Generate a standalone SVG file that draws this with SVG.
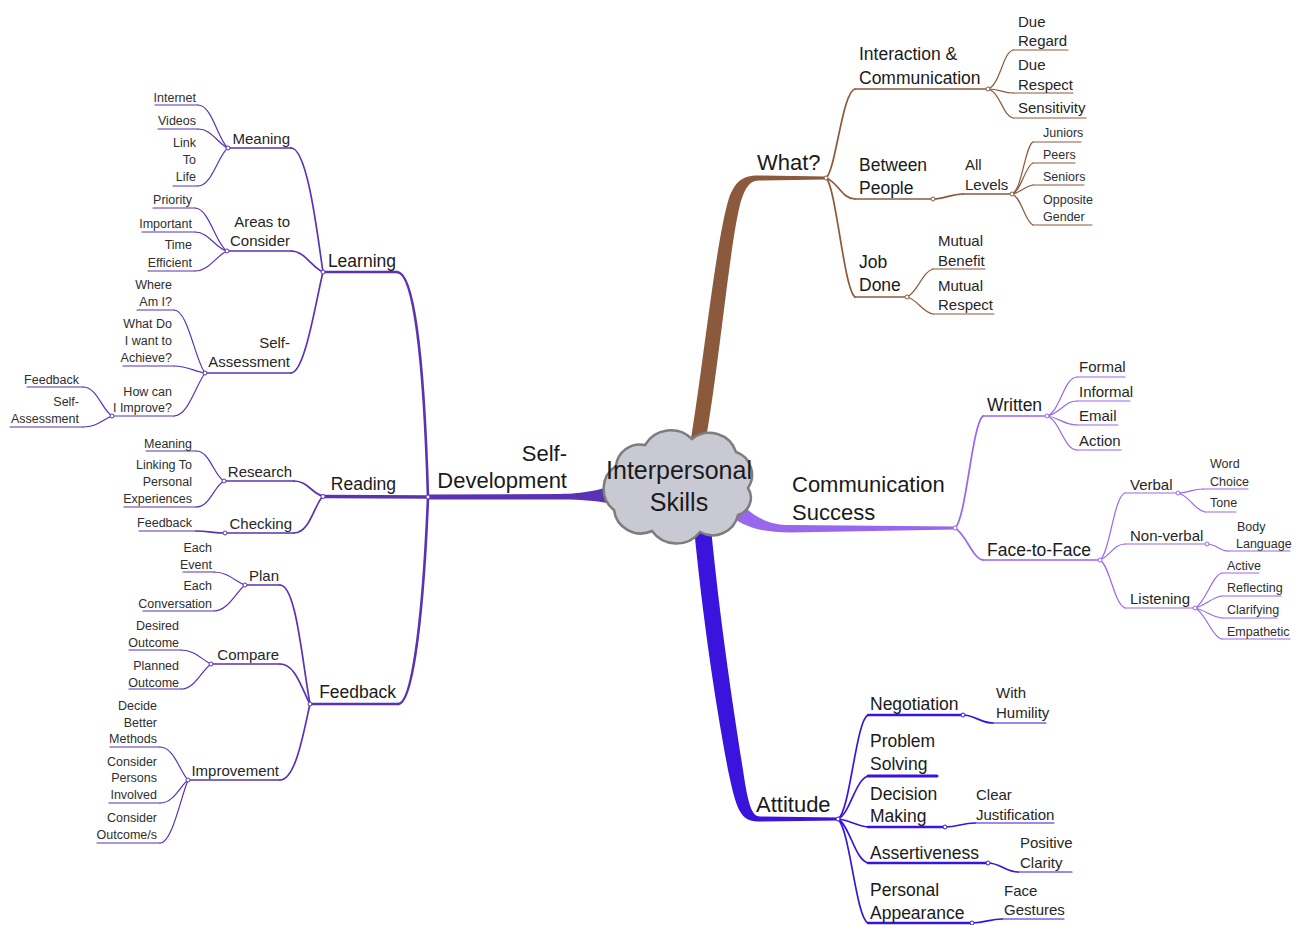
<svg xmlns="http://www.w3.org/2000/svg" width="1301" height="925" viewBox="0 0 1301 925">
  <style>
    text { font-family: "Liberation Sans", Arial, sans-serif; fill: #1a1a1a; }
    .f25 { font-size: 25px; }
    .f22 { font-size: 22px; }
    .f17 { font-size: 17.5px; }
    .f15 { font-size: 15px; fill: #262626; }
    .f12 { font-size: 12.5px; fill: #2e2e2e; }
    .e { text-anchor: end; }
    .m { text-anchor: middle; }
    path, line { fill: none; stroke-linecap: round; }
    .sd { stroke: #5a32b4; }
    .wh { stroke: #8b5a3c; }
    .cs { stroke: #9966ee; }
    .at { stroke: #3a14dc; }
    .w1 { stroke-width: 2.6; }
    .w2 { stroke-width: 1.7; }
    .w3 { stroke-width: 1.2; }
    .dot { fill: #ffffff; stroke-width: 1; }
    path.trunk { stroke: none; }
    path.t-sd { fill: #5a32b4; }
    path.t-wh { fill: #8b5a3c; }
    path.t-cs { fill: #9966ee; }
    path.t-at { fill: #3a14dc; }
    path.cloud { fill: #c9c9d3; stroke: #7d7d7d; stroke-width: 2.5; }
  </style>

  <!-- branch connectors -->
  <g id="connectors">
    <!-- main tapered branches -->
    <path class="trunk t-sd" d="M428,494.5 L560,494 C585,493.5 598,490 612,486 L612,504 C598,501 585,499.5 560,499.5 L428,499.5 Z"/>
    <path class="trunk t-wh" d="M690,445 C704,360 716,240 729,198 C735,182 742,175.5 758,175.5 L826,176.5 L826,179.5 L760,180.5 C750,180.5 746,186 741,201 C730,240 720,360 705,445 Z"/>
    <path class="trunk t-cs" d="M737,499 C750,514 765,525 790,525 L955,526.5 L955,529.5 L790,532.5 C760,532.5 740,526 727,512 Z"/>
    <path class="trunk t-at" d="M694,528 C703,620 715,700 728,770 C736,808 740,821.5 758,821.5 L838,820.5 L838,817.5 L760,816.5 C752,816.5 748,805 743,770 C732,700 720,620 711,528 Z"/>

    <!-- Self-Development -->
    <path class="sd w1" d="M397,272 C414,272 424,360 428,497"/>
    <path class="sd w1" d="M398,704 C414,704 424,600 428,497"/>
    <path class="sd w2" d="M291,148 C308,148 318,240 323,272"/>
    <path class="sd w2" d="M291,251 C305,251 312,268 323,272"/>
    <path class="sd w2" d="M291,373 C305,373 316,300 323,272"/>
    <path class="sd w3" d="M198,105 C212,105 218,140 228,148"/>
    <path class="sd w3" d="M198,129 C212,129 218,144 228,148"/>
    <path class="sd w3" d="M198,186 C212,186 218,155 228,148"/>
    <path class="sd w3" d="M195,208 C209,208 216,245 227,251"/>
    <path class="sd w3" d="M195,232 C209,232 216,249 227,251"/>
    <path class="sd w3" d="M195,271 C209,271 216,256 227,251"/>
    <path class="sd w3" d="M174,310 C188,310 195,360 205,373"/>
    <path class="sd w3" d="M174,366 C188,366 195,372 205,373"/>
    <path class="sd w3" d="M174,416 C188,416 196,385 205,373"/>
    <path class="sd w3" d="M83,387 C97,387 102,410 112,416"/>
    <path class="sd w3" d="M83,427 C97,427 102,420 112,416"/>
    <path class="sd w2" d="M294,481 C308,481 312,494 323,496"/>
    <path class="sd w2" d="M294,533 C310,533 314,505 323,496"/>
    <path class="sd w3" d="M196,451 C210,451 214,476 224,481"/>
    <path class="sd w3" d="M196,507 C210,507 214,486 224,481"/>
    <path class="sd w2" d="M196,531 C208,531 214,533 225,533"/>
    <path class="sd w2" d="M280,585 C296,585 302,660 310,704"/>
    <path class="sd w2" d="M280,664 C296,664 302,690 310,704"/>
    <path class="sd w2" d="M280,780 C296,780 304,730 310,704"/>
    <path class="sd w3" d="M214,572 C228,572 236,582 245,585"/>
    <path class="sd w3" d="M214,611 C228,611 236,592 245,585"/>
    <path class="sd w3" d="M181,650 C195,650 202,660 211,664"/>
    <path class="sd w3" d="M181,689 C195,689 202,670 211,664"/>
    <path class="sd w3" d="M160,747 C174,747 180,772 188,780"/>
    <path class="sd w3" d="M160,803 C174,803 180,786 188,780"/>
    <path class="sd w3" d="M160,843 C172,843 180,800 188,780"/>

    <!-- What? -->
    <path class="wh w2" d="M826,178 C836,170 842,92 855,89"/>
    <path class="wh w2" d="M826,178 C838,182 842,199 855,199"/>
    <path class="wh w2" d="M826,178 C836,186 844,290 855,297"/>
    <path class="wh w3" d="M988,89 C1000,85 1003,52 1013,50"/>
    <path class="wh w3" d="M988,89 C1000,89 1003,93 1013,93"/>
    <path class="wh w3" d="M988,89 C1000,92 1003,116 1013,118"/>
    <path class="wh w2" d="M933,199 C945,199 950,194 963,194"/>
    <path class="wh w3" d="M1012,194 C1022,190 1025,146 1033,142"/>
    <path class="wh w3" d="M1012,194 C1022,190 1025,166 1033,163"/>
    <path class="wh w3" d="M1012,194 C1022,192 1025,186 1033,185"/>
    <path class="wh w3" d="M1012,194 C1022,198 1025,222 1033,225"/>
    <path class="wh w3" d="M907,297 C918,292 922,272 933,269"/>
    <path class="wh w3" d="M907,297 C918,300 922,312 933,314"/>

    <!-- Communication Success -->
    <path class="cs w2" d="M955,528 C966,520 972,424 983,416"/>
    <path class="cs w2" d="M955,528 C966,534 972,558 983,560"/>
    <path class="cs w3" d="M1047,416 C1060,412 1064,377 1077,377"/>
    <path class="cs w3" d="M1047,416 C1060,414 1064,401 1077,401"/>
    <path class="cs w3" d="M1047,416 C1060,418 1064,425 1077,425"/>
    <path class="cs w3" d="M1047,416 C1060,420 1064,450 1077,450"/>
    <path class="cs w3" d="M1100,560 C1110,552 1114,496 1125,493"/>
    <path class="cs w3" d="M1100,560 C1110,556 1114,544 1125,544"/>
    <path class="cs w3" d="M1100,560 C1110,566 1114,604 1125,608"/>
    <path class="cs w3" d="M1178,493 C1188,493 1192,489 1203,489"/>
    <path class="cs w3" d="M1178,493 C1190,496 1194,510 1205,512"/>
    <path class="cs w3" d="M1207,544 C1216,544 1220,551 1228,551"/>
    <path class="cs w3" d="M1195,608 C1205,604 1212,575 1222,573"/>
    <path class="cs w3" d="M1195,608 C1205,606 1212,597 1222,596"/>
    <path class="cs w3" d="M1195,608 C1205,610 1212,617 1222,618"/>
    <path class="cs w3" d="M1195,608 C1205,612 1212,637 1222,639"/>

    <!-- Attitude -->
    <path class="at w2" d="M838,819 C850,812 856,720 868,715"/>
    <path class="at w2" d="M838,819 C850,814 855,780 868,776"/>
    <path class="at w2" d="M838,819 C850,820 856,826 868,827"/>
    <path class="at w2" d="M838,819 C850,826 855,860 868,863"/>
    <path class="at w2" d="M838,819 C850,830 856,918 868,923"/>
    <path class="at w2" d="M963,715 C975,715 980,723 993,723"/>
    <path class="at w2" d="M945,827 C958,827 962,823 975,823"/>
    <path class="at w2" d="M988,863 C1000,863 1006,872 1018,872"/>
    <path class="at w2" d="M972,923 C985,923 990,919 1002,919"/>
  </g>

  <!-- centre -->
  <g id="interpersonal-skills">
    <path class="cloud" d="M616,466 A24,24 0 0 1 645,445 A30,30 0 0 1 692,439 A28,28 0 0 1 736,452 A24,24 0 0 1 748,488 A18,18 0 0 1 738,515 A26,26 0 0 1 700,532 A30,30 0 0 1 652,531 A27,27 0 0 1 614,510 A27,27 0 0 1 616,466 Z"/>
    <text class="f25 m" x="679" y="479">Interpersonal</text>
    <text class="f25 m" x="679" y="511">Skills</text>
  </g>

  <!-- Self-Development -->
  <g id="self-development">
    <text class="f22 e" x="567" y="461">Self-</text>
    <text class="f22 e" x="567" y="488">Development</text>
  </g>
  <g id="learning">
    <line class="sd w1" x1="323" y1="272" x2="397" y2="272"/>
    <text class="f17 e" x="396" y="267">Learning</text>
    <circle class="sd dot" cx="323" cy="272" r="2"/>
  </g>
  <g id="learning-meaning">
    <line class="sd w2" x1="228" y1="148" x2="291" y2="148"/>
    <text class="f15 e" x="290" y="144">Meaning</text>
    <circle class="sd dot" cx="228" cy="148" r="2"/>
  </g>
  <g id="internet"><line class="sd w3" x1="155" y1="105" x2="198" y2="105"/><text class="f12 e" x="196" y="102">Internet</text></g>
  <g id="videos"><line class="sd w3" x1="158" y1="129" x2="198" y2="129"/><text class="f12 e" x="196" y="125">Videos</text></g>
  <g id="link-to-life"><line class="sd w3" x1="173" y1="186" x2="198" y2="186"/><text class="f12 e" x="196" y="147">Link</text><text class="f12 e" x="196" y="164">To</text><text class="f12 e" x="196" y="181">Life</text></g>
  <g id="areas-to-consider">
    <line class="sd w2" x1="227" y1="251" x2="291" y2="251"/>
    <text class="f15 e" x="290" y="227">Areas to</text>
    <text class="f15 e" x="290" y="246">Consider</text>
    <circle class="sd dot" cx="227" cy="251" r="2"/>
  </g>
  <g id="priority"><line class="sd w3" x1="153" y1="208" x2="195" y2="208"/><text class="f12 e" x="192" y="204">Priority</text></g>
  <g id="important"><line class="sd w3" x1="142" y1="232" x2="195" y2="232"/><text class="f12 e" x="192" y="228">Important</text></g>
  <g id="time-efficient"><line class="sd w3" x1="148" y1="271" x2="195" y2="271"/><text class="f12 e" x="192" y="249">Time</text><text class="f12 e" x="192" y="267">Efficient</text></g>
  <g id="self-assessment">
    <line class="sd w2" x1="205" y1="373" x2="291" y2="373"/>
    <text class="f15 e" x="290" y="348">Self-</text>
    <text class="f15 e" x="290" y="367">Assessment</text>
    <circle class="sd dot" cx="205" cy="373" r="2"/>
  </g>
  <g id="where-am-i"><line class="sd w3" x1="137" y1="310" x2="174" y2="310"/><text class="f12 e" x="172" y="289">Where</text><text class="f12 e" x="172" y="306">Am I?</text></g>
  <g id="what-to-achieve"><line class="sd w3" x1="123" y1="366" x2="174" y2="366"/><text class="f12 e" x="172" y="328">What Do</text><text class="f12 e" x="172" y="345">I want to</text><text class="f12 e" x="172" y="362">Achieve?</text></g>
  <g id="how-can-i-improve">
    <line class="sd w3" x1="112" y1="416" x2="174" y2="416"/>
    <text class="f12 e" x="172" y="396">How can</text><text class="f12 e" x="172" y="412">I Improve?</text>
    <circle class="sd dot" cx="112" cy="416" r="2"/>
  </g>
  <g id="improve-feedback"><line class="sd w3" x1="27" y1="387" x2="83" y2="387"/><text class="f12 e" x="79" y="384">Feedback</text></g>
  <g id="improve-self-assessment"><line class="sd w3" x1="10" y1="427" x2="83" y2="427"/><text class="f12 e" x="79" y="406">Self-</text><text class="f12 e" x="79" y="423">Assessment</text></g>

  <g id="reading">
    <line x1="323" y1="496.5" x2="428" y2="497" stroke="#5a32b4" stroke-width="3.5"/>
    <text class="f17 e" x="396" y="490">Reading</text>
    <circle class="sd dot" cx="323" cy="496.5" r="2"/>
    <circle class="sd dot" cx="428" cy="497" r="2"/>
  </g>
  <g id="research">
    <line class="sd w2" x1="224" y1="481" x2="294" y2="481"/>
    <text class="f15 e" x="292" y="477">Research</text>
    <circle class="sd dot" cx="224" cy="481" r="2"/>
  </g>
  <g id="research-meaning"><line class="sd w3" x1="146" y1="451" x2="196" y2="451"/><text class="f12 e" x="192" y="448">Meaning</text></g>
  <g id="linking-experiences"><line class="sd w3" x1="124" y1="507" x2="196" y2="507"/><text class="f12 e" x="192" y="469">Linking To</text><text class="f12 e" x="192" y="486">Personal</text><text class="f12 e" x="192" y="503">Experiences</text></g>
  <g id="checking">
    <line class="sd w2" x1="225" y1="533" x2="294" y2="533"/>
    <text class="f15 e" x="292" y="529">Checking</text>
    <circle class="sd dot" cx="225" cy="533" r="2"/>
  </g>
  <g id="checking-feedback"><line class="sd w3" x1="139" y1="531" x2="196" y2="531"/><text class="f12 e" x="192" y="527">Feedback</text></g>

  <g id="feedback">
    <line class="sd w1" x1="310" y1="704" x2="398" y2="704"/>
    <text class="f17 e" x="396" y="698">Feedback</text>
    <circle class="sd dot" cx="310" cy="704" r="2"/>
  </g>
  <g id="plan">
    <line class="sd w2" x1="245" y1="585" x2="280" y2="585"/>
    <text class="f15 e" x="279" y="581">Plan</text>
    <circle class="sd dot" cx="245" cy="585" r="2"/>
  </g>
  <g id="each-event"><line class="sd w3" x1="183" y1="572" x2="214" y2="572"/><text class="f12 e" x="212" y="552">Each</text><text class="f12 e" x="212" y="569">Event</text></g>
  <g id="each-conversation"><line class="sd w3" x1="143" y1="611" x2="214" y2="611"/><text class="f12 e" x="212" y="590">Each</text><text class="f12 e" x="212" y="608">Conversation</text></g>
  <g id="compare">
    <line class="sd w2" x1="211" y1="664" x2="280" y2="664"/>
    <text class="f15 e" x="279" y="660">Compare</text>
    <circle class="sd dot" cx="211" cy="664" r="2"/>
  </g>
  <g id="desired-outcome"><line class="sd w3" x1="129" y1="650" x2="181" y2="650"/><text class="f12 e" x="179" y="630">Desired</text><text class="f12 e" x="179" y="647">Outcome</text></g>
  <g id="planned-outcome"><line class="sd w3" x1="129" y1="689" x2="181" y2="689"/><text class="f12 e" x="179" y="670">Planned</text><text class="f12 e" x="179" y="687">Outcome</text></g>
  <g id="improvement">
    <line class="sd w2" x1="188" y1="780" x2="280" y2="780"/>
    <text class="f15 e" x="279" y="776">Improvement</text>
    <circle class="sd dot" cx="188" cy="780" r="2"/>
  </g>
  <g id="better-methods"><line class="sd w3" x1="110" y1="747" x2="160" y2="747"/><text class="f12 e" x="157" y="710">Decide</text><text class="f12 e" x="157" y="727">Better</text><text class="f12 e" x="157" y="743">Methods</text></g>
  <g id="persons-involved"><line class="sd w3" x1="109" y1="803" x2="160" y2="803"/><text class="f12 e" x="157" y="766">Consider</text><text class="f12 e" x="157" y="782">Persons</text><text class="f12 e" x="157" y="799">Involved</text></g>
  <g id="consider-outcomes"><line class="sd w3" x1="97" y1="843" x2="160" y2="843"/><text class="f12 e" x="157" y="822">Consider</text><text class="f12 e" x="157" y="839">Outcome/s</text></g>

  <!-- What? -->
  <g id="what">
    <text class="f22" x="757" y="170">What?</text>
    <circle class="wh dot" cx="826" cy="178" r="2"/>
  </g>
  <g id="interaction-communication">
    <line class="wh w2" x1="855" y1="89" x2="988" y2="89"/>
    <text class="f17" x="859" y="60">Interaction &amp;</text>
    <text class="f17" x="859" y="84">Communication</text>
    <circle class="wh dot" cx="988" cy="89" r="2"/>
  </g>
  <g id="due-regard"><line class="wh w3" x1="1013" y1="50" x2="1068" y2="50"/><text class="f15" x="1018" y="27">Due</text><text class="f15" x="1018" y="46">Regard</text></g>
  <g id="due-respect"><line class="wh w3" x1="1013" y1="93" x2="1073" y2="93"/><text class="f15" x="1018" y="70">Due</text><text class="f15" x="1018" y="90">Respect</text></g>
  <g id="sensitivity"><line class="wh w3" x1="1013" y1="118" x2="1086" y2="118"/><text class="f15" x="1018" y="113">Sensitivity</text></g>
  <g id="between-people">
    <line class="wh w2" x1="855" y1="199" x2="933" y2="199"/>
    <text class="f17" x="859" y="171">Between</text>
    <text class="f17" x="859" y="194">People</text>
    <circle class="wh dot" cx="933" cy="199" r="2"/>
  </g>
  <g id="all-levels">
    <line class="wh w2" x1="963" y1="194" x2="1012" y2="194"/>
    <text class="f15" x="965" y="170">All</text>
    <text class="f15" x="965" y="190">Levels</text>
    <circle class="wh dot" cx="1012" cy="194" r="2"/>
  </g>
  <g id="juniors"><line class="wh w3" x1="1033" y1="142" x2="1081" y2="142"/><text class="f12" x="1043" y="137">Juniors</text></g>
  <g id="peers"><line class="wh w3" x1="1033" y1="163" x2="1075" y2="163"/><text class="f12" x="1043" y="159">Peers</text></g>
  <g id="seniors"><line class="wh w3" x1="1033" y1="185" x2="1084" y2="185"/><text class="f12" x="1043" y="181">Seniors</text></g>
  <g id="opposite-gender"><line class="wh w3" x1="1033" y1="225" x2="1092" y2="225"/><text class="f12" x="1043" y="204">Opposite</text><text class="f12" x="1043" y="221">Gender</text></g>
  <g id="job-done">
    <line class="wh w2" x1="855" y1="297" x2="907" y2="297"/>
    <text class="f17" x="859" y="268">Job</text>
    <text class="f17" x="859" y="291">Done</text>
    <circle class="wh dot" cx="907" cy="297" r="2"/>
  </g>
  <g id="mutual-benefit"><line class="wh w3" x1="933" y1="269" x2="985" y2="269"/><text class="f15" x="938" y="246">Mutual</text><text class="f15" x="938" y="266">Benefit</text></g>
  <g id="mutual-respect"><line class="wh w3" x1="933" y1="314" x2="994" y2="314"/><text class="f15" x="938" y="291">Mutual</text><text class="f15" x="938" y="310">Respect</text></g>

  <!-- Communication Success -->
  <g id="communication-success">
    <text class="f22" x="792" y="492">Communication</text>
    <text class="f22" x="792" y="520">Success</text>
    <circle class="cs dot" cx="955" cy="528" r="2"/>
  </g>
  <g id="written">
    <line class="cs w2" x1="983" y1="416" x2="1047" y2="416"/>
    <text class="f17" x="987" y="411">Written</text>
    <circle class="cs dot" cx="1047" cy="416" r="2"/>
  </g>
  <g id="formal"><line class="cs w3" x1="1077" y1="377" x2="1125" y2="377"/><text class="f15" x="1079" y="372">Formal</text></g>
  <g id="informal"><line class="cs w3" x1="1077" y1="401" x2="1130" y2="401"/><text class="f15" x="1079" y="397">Informal</text></g>
  <g id="email"><line class="cs w3" x1="1077" y1="425" x2="1118" y2="425"/><text class="f15" x="1079" y="421">Email</text></g>
  <g id="action"><line class="cs w3" x1="1077" y1="450" x2="1121" y2="450"/><text class="f15" x="1079" y="446">Action</text></g>
  <g id="face-to-face">
    <line class="cs w2" x1="983" y1="560" x2="1100" y2="560"/>
    <text class="f17" x="987" y="556">Face-to-Face</text>
    <circle class="cs dot" cx="1100" cy="560" r="2"/>
  </g>
  <g id="verbal">
    <line class="cs w3" x1="1125" y1="493" x2="1178" y2="493"/>
    <text class="f15" x="1130" y="490">Verbal</text>
    <circle class="cs dot" cx="1178" cy="493" r="2"/>
  </g>
  <g id="word-choice"><line class="cs w3" x1="1203" y1="489" x2="1248" y2="489"/><text class="f12" x="1210" y="468">Word</text><text class="f12" x="1210" y="486">Choice</text></g>
  <g id="tone"><line class="cs w3" x1="1205" y1="512" x2="1236" y2="512"/><text class="f12" x="1210" y="507">Tone</text></g>
  <g id="non-verbal">
    <line class="cs w3" x1="1125" y1="544" x2="1207" y2="544"/>
    <text class="f15" x="1130" y="541">Non-verbal</text>
    <circle class="cs dot" cx="1207" cy="544" r="2"/>
  </g>
  <g id="body-language"><line class="cs w3" x1="1228" y1="551" x2="1290" y2="551"/><text class="f12" x="1237" y="531">Body</text><text class="f12" x="1236" y="548">Language</text></g>
  <g id="listening">
    <line class="cs w3" x1="1125" y1="608" x2="1195" y2="608"/>
    <text class="f15" x="1130" y="604">Listening</text>
    <circle class="cs dot" cx="1195" cy="608" r="2"/>
  </g>
  <g id="active"><line class="cs w3" x1="1222" y1="573" x2="1259" y2="573"/><text class="f12" x="1227" y="570">Active</text></g>
  <g id="reflecting"><line class="cs w3" x1="1222" y1="596" x2="1281" y2="596"/><text class="f12" x="1227" y="592">Reflecting</text></g>
  <g id="clarifying"><line class="cs w3" x1="1222" y1="618" x2="1277" y2="618"/><text class="f12" x="1227" y="614">Clarifying</text></g>
  <g id="empathetic"><line class="cs w3" x1="1222" y1="639" x2="1290" y2="639"/><text class="f12" x="1227" y="636">Empathetic</text></g>

  <!-- Attitude -->
  <g id="attitude">
    <text class="f22" x="756" y="812">Attitude</text>
    <circle class="at dot" cx="838" cy="819" r="2"/>
  </g>
  <g id="negotiation">
    <line class="at w1" x1="868" y1="715" x2="963" y2="715"/>
    <text class="f17" x="870" y="710">Negotiation</text>
    <circle class="at dot" cx="963" cy="715" r="2"/>
  </g>
  <g id="with-humility"><line class="at w3" x1="993" y1="723" x2="1046" y2="723"/><text class="f15" x="996" y="698">With</text><text class="f15" x="996" y="718">Humility</text></g>
  <g id="problem-solving">
    <line class="at" x1="868" y1="776" x2="937" y2="776" stroke-width="3"/>
    <text class="f17" x="870" y="747">Problem</text>
    <text class="f17" x="870" y="770">Solving</text>
  </g>
  <g id="decision-making">
    <line class="at w1" x1="868" y1="827" x2="945" y2="827"/>
    <text class="f17" x="870" y="800">Decision</text>
    <text class="f17" x="870" y="822">Making</text>
    <circle class="at dot" cx="945" cy="827" r="2"/>
  </g>
  <g id="clear-justification"><line class="at w3" x1="975" y1="823" x2="1054" y2="823"/><text class="f15" x="976" y="800">Clear</text><text class="f15" x="976" y="820">Justification</text></g>
  <g id="assertiveness">
    <line class="at w1" x1="868" y1="863" x2="988" y2="863"/>
    <text class="f17" x="870" y="859">Assertiveness</text>
    <circle class="at dot" cx="988" cy="863" r="2"/>
  </g>
  <g id="positive-clarity"><line class="at w3" x1="1018" y1="872" x2="1072" y2="872"/><text class="f15" x="1020" y="848">Positive</text><text class="f15" x="1020" y="868">Clarity</text></g>
  <g id="personal-appearance">
    <line class="at w1" x1="868" y1="923" x2="972" y2="923"/>
    <text class="f17" x="870" y="896">Personal</text>
    <text class="f17" x="870" y="919">Appearance</text>
    <circle class="at dot" cx="972" cy="923" r="2"/>
  </g>
  <g id="face-gestures"><line class="at w3" x1="1002" y1="919" x2="1064" y2="919"/><text class="f15" x="1004" y="896">Face</text><text class="f15" x="1004" y="915">Gestures</text></g>
</svg>
